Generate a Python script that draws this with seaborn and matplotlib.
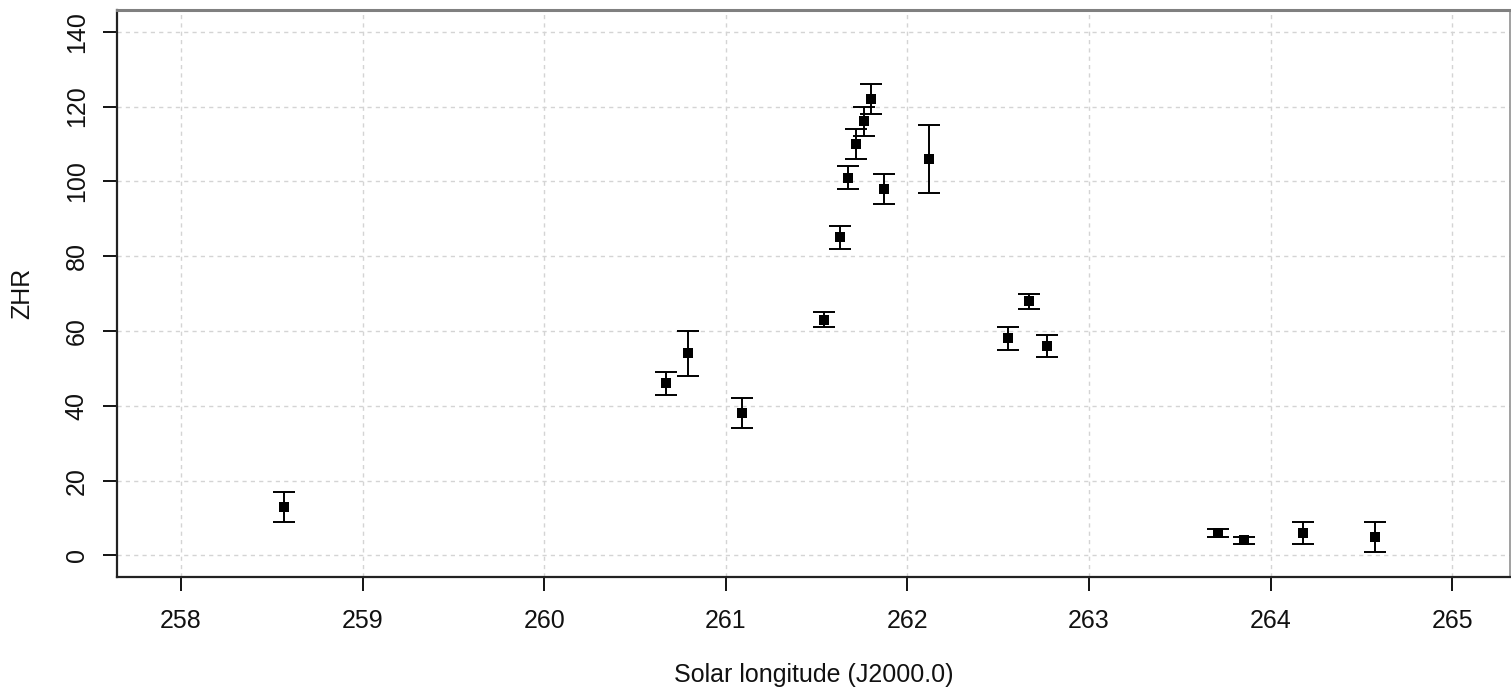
import matplotlib
matplotlib.use("Agg")
import matplotlib.pyplot as plt
import seaborn as sns
import pandas as pd

# Solar longitude (J2000.0) of each ZHR estimate
sol_long = [258.57, 260.67, 260.79, 261.09, 261.54, 261.63, 261.675, 261.717,
            261.76, 261.80, 261.87, 262.12, 262.555, 262.67, 262.77,
            263.71, 263.855, 264.18, 264.575]
# Zenithal hourly rate and its uncertainty
zhr = [13, 46, 54, 38, 63, 85, 101, 110, 116, 122, 98, 106, 58, 68, 56, 6, 4, 6, 5]
zhr_err = [4, 3, 6, 4, 2, 3, 3, 4, 4, 4, 4, 9, 3, 2, 3, 1, 1, 3, 4]

x_ticks = [258, 259, 260, 261, 262, 263, 264, 265]
y_ticks = [0, 20, 40, 60, 80, 100, 120, 140]

df = pd.DataFrame({"sol": sol_long, "zhr": zhr, "err": zhr_err})

sns.set_theme(style="white")
plt.rcParams["font.family"] = ["Liberation Sans", "DejaVu Sans"]

fig = plt.figure(figsize=(15.11, 6.90), dpi=100)
ax = fig.add_axes([0.0772, 0.1642, 0.9221, 0.8213])

ax.errorbar(df["sol"], df["zhr"], yerr=df["err"], fmt="none",
            ecolor="black", elinewidth=1.4, capsize=8, capthick=1.4, zorder=3)
sns.scatterplot(data=df, x="sol", y="zhr", marker="s", s=45, color="black",
                edgecolor="black", linewidth=0, ax=ax, zorder=4)

ax.set_xlim(257.646, 265.318)
ax.set_ylim(-5.7, 145.8)
ax.set_xticks(x_ticks)
ax.set_yticks(y_ticks)
ax.set_xticklabels([str(v) for v in x_ticks], fontsize=18)
ax.set_yticklabels([str(v) for v in y_ticks], fontsize=18, rotation=90, va="center")

ax.grid(True, color="#d4d4d4", linestyle=(0, (3, 3)), linewidth=1.0)
ax.set_axisbelow(True)

ax.tick_params(axis="x", direction="out", length=10, width=1.3,
               color="black", pad=13, labelcolor="#111111", bottom=True)
ax.tick_params(axis="y", direction="out", length=10, width=1.3,
               color="black", pad=10, labelcolor="#111111", left=True)

ax.set_xlabel("Solar longitude (J2000.0)", fontsize=18, labelpad=22, color="#111111")
ax.set_ylabel("ZHR", fontsize=18, labelpad=22, color="#111111")

for side in ("left", "bottom"):
    ax.spines[side].set_color("#222222")
    ax.spines[side].set_linewidth(1.6)
ax.spines["top"].set_color("#808080")
ax.spines["top"].set_linewidth(2.2)
ax.spines["right"].set_color("#909090")
ax.spines["right"].set_linewidth(1.2)

fig.savefig("out.png", dpi=100, facecolor="white")
